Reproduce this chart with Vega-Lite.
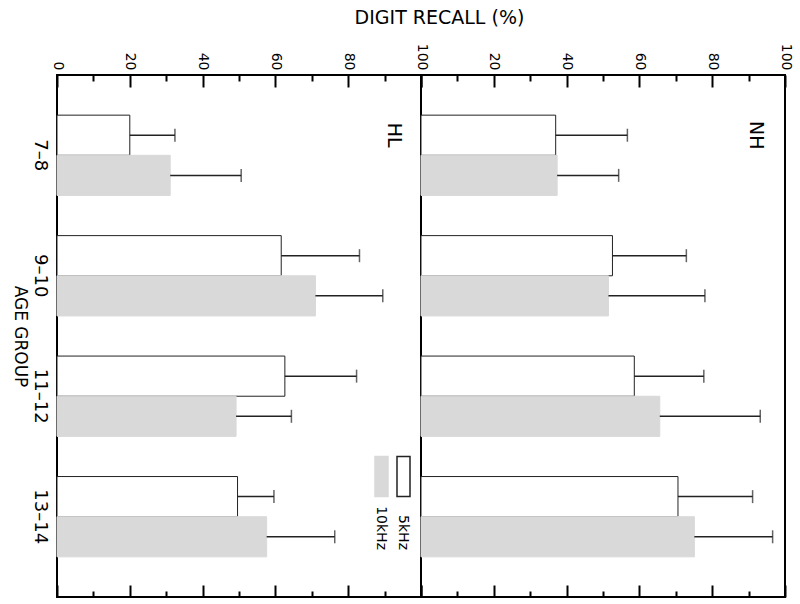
{
  "$schema": "https://vega.github.io/schema/vega-lite/v6.json",
  "background": "white",
  "padding": {"left": 10, "top": 9, "right": 5, "bottom": 5},
  "bounds": "flush",
  "spacing": 0,
  "config": {
    "font": "DejaVu Sans",
    "view": {"stroke": "black", "strokeWidth": 2},
    "axis": {"minExtent": 0, "grid": false, "labelColor": "black", "titleColor": "black", "tickColor": "black"}
  },
  "title": {"text": "DIGIT RECALL (%)", "fontSize": 19, "fontWeight": "normal", "font": "DejaVu Sans", "color": "black", "anchor": "middle", "offset": 14, "dx": 38},
  "datasets": {
    "bars": [
      {"group": "HL", "age": "7–8", "freq": "5kHz", "recall": 20.0, "upper": 32.4},
      {"group": "HL", "age": "7–8", "freq": "10kHz", "recall": 31.1, "upper": 50.6},
      {"group": "HL", "age": "9–10", "freq": "5kHz", "recall": 61.6, "upper": 83.1},
      {"group": "HL", "age": "9–10", "freq": "10kHz", "recall": 71.0, "upper": 89.5},
      {"group": "HL", "age": "11–12", "freq": "5kHz", "recall": 62.6, "upper": 82.3},
      {"group": "HL", "age": "11–12", "freq": "10kHz", "recall": 49.2, "upper": 64.4},
      {"group": "HL", "age": "13–14", "freq": "5kHz", "recall": 49.6, "upper": 59.6},
      {"group": "HL", "age": "13–14", "freq": "10kHz", "recall": 57.6, "upper": 76.3},
      {"group": "NH", "age": "7–8", "freq": "5kHz", "recall": 37.0, "upper": 56.7},
      {"group": "NH", "age": "7–8", "freq": "10kHz", "recall": 37.4, "upper": 54.3},
      {"group": "NH", "age": "9–10", "freq": "5kHz", "recall": 52.6, "upper": 72.9},
      {"group": "NH", "age": "9–10", "freq": "10kHz", "recall": 51.5, "upper": 78.0},
      {"group": "NH", "age": "11–12", "freq": "5kHz", "recall": 58.6, "upper": 77.7},
      {"group": "NH", "age": "11–12", "freq": "10kHz", "recall": 65.6, "upper": 93.2},
      {"group": "NH", "age": "13–14", "freq": "5kHz", "recall": 70.6, "upper": 91.1},
      {"group": "NH", "age": "13–14", "freq": "10kHz", "recall": 75.1, "upper": 96.6}
    ]
  },
  "hconcat": [
    {
      "width": 364,
      "height": 522,
      "data": {"name": "bars"},
      "transform": [{"filter": "datum.group === 'HL'"}],
      "encoding": {
        "y": {"field": "age", "type": "nominal", "sort": ["7–8", "9–10", "11–12", "13–14"],
              "scale": {"paddingInner": 0.3333, "paddingOuter": 0.3333},
              "axis": {"title": "AGE GROUP", "titleAngle": 90, "titleFontSize": 17, "titleFontWeight": "normal", "titleBaseline": "top", "titlePadding": 3,
                       "labelAngle": 90, "labelAlign": "center", "labelBaseline": "middle", "labelPadding": 18, "labelFontSize": 18,
                       "ticks": false, "domain": false}},
        "yOffset": {"field": "freq", "type": "nominal", "sort": ["5kHz", "10kHz"], "scale": {"paddingInner": 0, "paddingOuter": 0}}
      },
      "layer": [
        {
          "mark": {"type": "bar", "strokeWidth": 1},
          "encoding": {
            "x": {"field": "recall", "type": "quantitative", "scale": {"domain": [0, 100], "nice": false},
                  "axis": {"orient": "top", "values": [0, 10, 20, 30, 40, 50, 60, 70, 80, 90, 100], "title": null,
                           "labelAngle": 90, "labelAlign": "right", "labelBaseline": "middle", "labelFontSize": 14,
                           "labelExpr": "datum.value % 20 === 0 ? datum.label : ''",
                           "tickSize": {"condition": {"test": "datum.value % 20 === 0", "value": -12}, "value": -6},
                           "tickWidth": 2, "labelPadding": 17, "domain": false, "labelFlush": false, "labelOverlap": false, "labelBound": false}},
            "fill": {"field": "freq", "type": "nominal", "scale": {"domain": ["10kHz", "5kHz"], "range": ["#d9d9d9", "#ffffff"]},
                     "legend": {"orient": "none", "legendX": 317, "legendY": 394, "direction": "horizontal", "title": null, "padding": 0,
                                "symbolType": "M-1,-3.08L1,-3.08L1,3.08L-1,3.08Z", "symbolSize": 169, "symbolStrokeWidth": 1.5,
                                "labelFontSize": 14, "labelColor": "black", "columnPadding": 3,
                                "encoding": {"labels": {"angle": {"value": 90}, "align": {"value": "right"}, "baseline": {"value": "middle"}, "x": {"value": 6.5}, "y": {"value": 81}}}}},
            "stroke": {"field": "freq", "type": "nominal", "scale": {"domain": ["10kHz", "5kHz"], "range": ["#d9d9d9", "#222222"]},
                     "legend": {"orient": "none", "legendX": 317, "legendY": 394, "direction": "horizontal", "title": null, "padding": 0,
                                "symbolType": "M-1,-3.08L1,-3.08L1,3.08L-1,3.08Z", "symbolSize": 169, "symbolStrokeWidth": 1.5,
                                "labelFontSize": 14, "labelColor": "black", "columnPadding": 3,
                                "encoding": {"labels": {"angle": {"value": 90}, "align": {"value": "right"}, "baseline": {"value": "middle"}, "x": {"value": 6.5}, "y": {"value": 81}}}}}
          }
        },
        {
          "mark": {"type": "rule", "strokeWidth": 1.5, "color": "#222222"},
          "encoding": {
            "x": {"field": "recall", "type": "quantitative", "axis": null},
            "x2": {"field": "upper"}
          }
        },
        {
          "mark": {"type": "tick", "thickness": 1.5, "size": 13, "color": "#222222", "orient": "vertical"},
          "encoding": {
            "x": {"field": "upper", "type": "quantitative",
                  "axis": {"orient": "bottom", "values": [0, 10, 20, 30, 40, 50, 60, 70, 80, 90, 100], "title": null, "labels": false,
                           "tickSize": {"condition": {"test": "datum.value % 20 === 0", "value": -12}, "value": -6},
                           "tickWidth": 2, "domain": false}}
          }
        },
        {
          "data": {"values": [{"group": "HL", "label": "HL"}]},
          "mark": {"type": "text", "angle": 90, "align": "center", "baseline": "middle", "fontSize": 19, "color": "black"},
          "encoding": {
            "text": {"field": "label"},
            "x": {"datum": 92.5, "type": "quantitative", "axis": null},
            "y": {"datum": "7–8", "type": "nominal"},
            "yOffset": {"datum": "5kHz", "type": "nominal"}
          }
        }
      ],
      "resolve": {"axis": {"x": "independent"}}
    },
    {
      "width": 364,
      "height": 522,
      "data": {"name": "bars"},
      "transform": [{"filter": "datum.group === 'NH'"}],
      "encoding": {
        "y": {"field": "age", "type": "nominal", "sort": ["7–8", "9–10", "11–12", "13–14"],
              "scale": {"paddingInner": 0.3333, "paddingOuter": 0.3333}, "axis": null},
        "yOffset": {"field": "freq", "type": "nominal", "sort": ["5kHz", "10kHz"], "scale": {"paddingInner": 0, "paddingOuter": 0}}
      },
      "layer": [
        {
          "mark": {"type": "bar", "strokeWidth": 1},
          "encoding": {
            "x": {"field": "recall", "type": "quantitative", "scale": {"domain": [0, 100], "nice": false},
                  "axis": {"orient": "top", "values": [0, 10, 20, 30, 40, 50, 60, 70, 80, 90, 100], "title": null,
                           "labelAngle": 90, "labelAlign": "right", "labelBaseline": "middle", "labelFontSize": 14,
                           "labelExpr": "datum.value % 20 === 0 && datum.value > 0 ? datum.label : ''",
                           "tickSize": {"condition": {"test": "datum.value % 20 === 0", "value": -12}, "value": -6},
                           "tickWidth": 2, "labelPadding": 17, "domain": false, "labelFlush": false, "labelOverlap": false, "labelBound": false}},
            "fill": {"field": "freq", "type": "nominal", "scale": {"domain": ["10kHz", "5kHz"], "range": ["#d9d9d9", "#ffffff"]}, "legend": null},
            "stroke": {"field": "freq", "type": "nominal", "scale": {"domain": ["10kHz", "5kHz"], "range": ["#d9d9d9", "#222222"]}, "legend": null}
          }
        },
        {
          "mark": {"type": "rule", "strokeWidth": 1.5, "color": "#222222"},
          "encoding": {
            "x": {"field": "recall", "type": "quantitative", "axis": null},
            "x2": {"field": "upper"}
          }
        },
        {
          "mark": {"type": "tick", "thickness": 1.5, "size": 13, "color": "#222222", "orient": "vertical"},
          "encoding": {
            "x": {"field": "upper", "type": "quantitative",
                  "axis": {"orient": "bottom", "values": [0, 10, 20, 30, 40, 50, 60, 70, 80, 90, 100], "title": null, "labels": false,
                           "tickSize": {"condition": {"test": "datum.value % 20 === 0", "value": -12}, "value": -6},
                           "tickWidth": 2, "domain": false}}
          }
        },
        {
          "data": {"values": [{"group": "NH", "label": "NH"}]},
          "mark": {"type": "text", "angle": 90, "align": "center", "baseline": "middle", "fontSize": 19, "color": "black"},
          "encoding": {
            "text": {"field": "label"},
            "x": {"datum": 92.1, "type": "quantitative", "axis": null},
            "y": {"datum": "7–8", "type": "nominal"},
            "yOffset": {"datum": "5kHz", "type": "nominal"}
          }
        }
      ],
      "resolve": {"axis": {"x": "independent"}}
    }
  ]
}
